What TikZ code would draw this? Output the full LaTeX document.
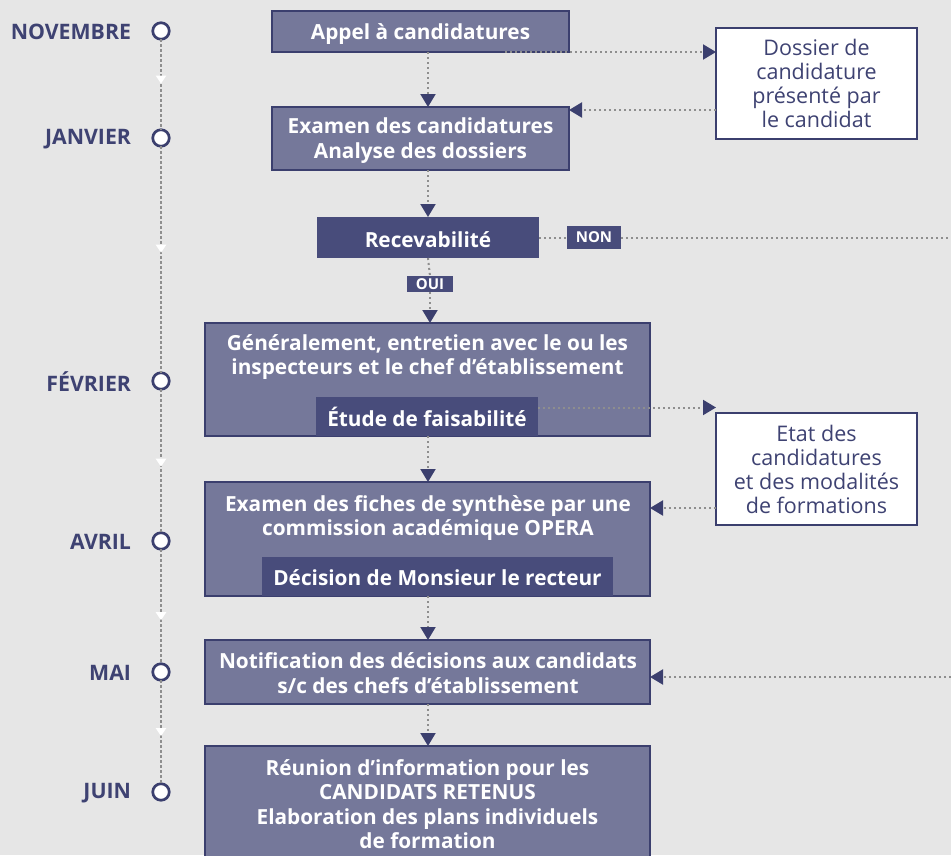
\documentclass[tikz,border=0pt]{standalone}
\usepackage{fontspec}
\setmainfont{Open Sans}
\usetikzlibrary{arrows.meta,calc,decorations.markings}
\definecolor{bg}{HTML}{E6E6E6}
\definecolor{midfill}{HTML}{75789A}
\definecolor{darkfill}{HTML}{484C7B}
\definecolor{navy}{HTML}{3B3F6E}
\definecolor{ink}{HTML}{3E4272}
\definecolor{dotgray}{HTML}{8E8E8E}
\begin{document}
\begin{tikzpicture}[x=1pt,y=-1pt,
  every node/.style={inner sep=0pt, outer sep=0pt},
  boxtxt/.style={font=\bfseries\fontsize{20.8}{24.3}\selectfont, text=white, align=center},
  midbox/.style={draw=navy, line width=1.3pt, fill=midfill, rectangle, anchor=north west},
  darkbox/.style={fill=darkfill, rectangle, anchor=north west},
  whitebox/.style={draw=navy, line width=1.3pt, fill=white, rectangle, anchor=north west,
     font=\fontsize{21.5}{24}\selectfont, text=ink, align=center},
  tag/.style={darkbox, font=\bfseries\fontsize{15}{15}\selectfont, text=white},
  month/.style={anchor=east, font=\bfseries\fontsize{21.3}{21}\selectfont, text=ink},
  tlcircle/.style={circle, draw=navy, line width=2.7pt, fill=white, minimum size=16.5pt},
  conn/.style={draw=dotgray, line width=2pt, dash pattern=on 2pt off 3pt},
  arr/.style={conn, -{Triangle[width=15pt,length=13pt,color=navy,fill=navy]}},
  tlline/.style={draw=dotgray, line width=2.6pt, dash pattern=on 2.5pt off 2.5pt,
     postaction={decorate}, decoration={markings, mark=at position #1 with {\arrow[white]{Triangle[width=10pt,length=8pt]}}}},
  tlline/.default=0.5
]
\useasboundingbox (0,0) rectangle (951,855);
\fill[bg] (0,0) rectangle (951,855);
\begin{scope}
\clip (0,0) rectangle (951,855);

% timeline
\node[tlcircle] (t1) at (161,31) {};
\node[tlcircle] (t2) at (161,138) {};
\node[tlcircle] (t3) at (161,381) {};
\node[tlcircle] (t4) at (161,541) {};
\node[tlcircle] (t5) at (161,672) {};
\node[tlcircle] (t6) at (161,792) {};
\draw[tlline=0.49] (t1) -- (t2);
\draw[tlline=0.47] (t2) -- (t3);
\draw[tlline=0.54] (t3) -- (t4);
\draw[tlline=0.62] (t4) -- (t5);
\draw[tlline=0.54] (t5) -- (t6);
\node[month] (m1) at (131,32) {NOVEMBRE};
\node[month] (m2) at (131,139) {JANVIER};
\node[month] (m3) at (131,382) {FÉVRIER};
\node[month] (m4) at (131,542) {AVRIL};
\node[month] (m5) at (131,673) {MAI};
\node[month] (m6) at (131,793) {JUIN};

% main boxes
\node[midbox, minimum width=297pt, minimum height=41pt] (appel) at (272,11) {};
\node[boxtxt] (appeltxt) at (420.5,34) {Appel à candidatures};
\node[midbox, minimum width=297pt, minimum height=63pt] (examen) at (272,107) {};
\node[boxtxt] (examentxt) at (420.5,140.5) {Examen des candidatures\\Analyse des dossiers};
\node[darkbox, minimum width=222pt, minimum height=41pt] (recev) at (317,217) {};
\node[boxtxt] (recevtxt) at (428,239.5) {Recevabilité};
\node[tag, minimum width=54pt, minimum height=23pt] (non) at (567,226) {NON};
\node[tag, minimum width=46pt, minimum height=16pt] (oui) at (407,276) {OUI};

\node[midbox, minimum width=445pt, minimum height=113pt] (gen) at (205,323) {};
\node[boxtxt] (gentxt) at (427.5,357) {Généralement, entretien avec le ou les\\inspecteurs et le chef d’établissement};
\node[darkbox, minimum width=222pt, minimum height=39pt] (etude) at (316,397) {};
\node[boxtxt] (etudetxt) at (427,416.5) {Étude de faisabilité};

\node[midbox, minimum width=445pt, minimum height=114pt] (fiches) at (205,482) {};
\node[boxtxt] (fichestxt) at (428,518) {Examen des fiches de synthèse par une\\commission académique OPERA};
\node[darkbox, minimum width=351pt, minimum height=39pt] (decision) at (262,557) {};
\node[boxtxt] (decisiontxt) at (437.5,577.5) {Décision de Monsieur le recteur};

\node[midbox, minimum width=445pt, minimum height=64pt] (notif) at (205,640) {};
\node[boxtxt] (notiftxt) at (428,673) {Notification des décisions aux candidats\\s/c des chefs d’établissement};
\node[midbox, minimum width=445pt, minimum height=130pt] (reunion) at (205,746) {};
\node[boxtxt] (reuniontxt) at (427.5,804) {Réunion d’information pour les\\CANDIDATS RETENUS\\Elaboration des plans individuels\\de formation};

% side boxes
\node[whitebox, minimum width=201pt, minimum height=111pt] (dossier) at (716,28) {Dossier de\\candidature\\présenté par\\le candidat};
\node[whitebox, minimum width=201pt, minimum height=112pt] (etat) at (716,413) {Etat des\\candidatures\\et des modalités\\de formations};

\coordinate (nonend) at (951,237.5);
\coordinate (notifin) at (951,677);

% connectors
\draw[arr] (appel.south -| recev) -- (examen.north -| recev);
\draw[arr] ($(appel.south east)+(-64,0)$) -- (appel.south east -| dossier.west);
\draw[arr] ($(examen.north east -| dossier.west)+(0,3)$) -- ($(examen.north east)+(0,3)$);
\draw[arr] (examen.south -| recev) -- (recev.north);
\draw[conn] (recev.east) -- (non.west);
\draw[conn] (non.east) -- (nonend);
\draw[conn] (recev.south) -- (oui.north);
\draw[arr] (oui.south) -- (gen.north -| oui.south);
\draw[arr] ($(etude.east)+(0,-9)$) -- ($(etude.east -| etat.west)+(0,-9)$);
\draw[arr] (gen.south -| recev) -- (fiches.north -| recev);
\draw[arr] ($(fiches.north east -| etat.west)+(0,26)$) -- ($(fiches.north east)+(0,26)$);
\draw[arr] (decision.south -| recev) -- (notif.north -| recev);
\draw[arr] (notifin) -- (notif.east |- notifin);
\draw[arr] (notif.south -| recev) -- (reunion.north -| recev);
\end{scope}
\end{tikzpicture}
\end{document}
